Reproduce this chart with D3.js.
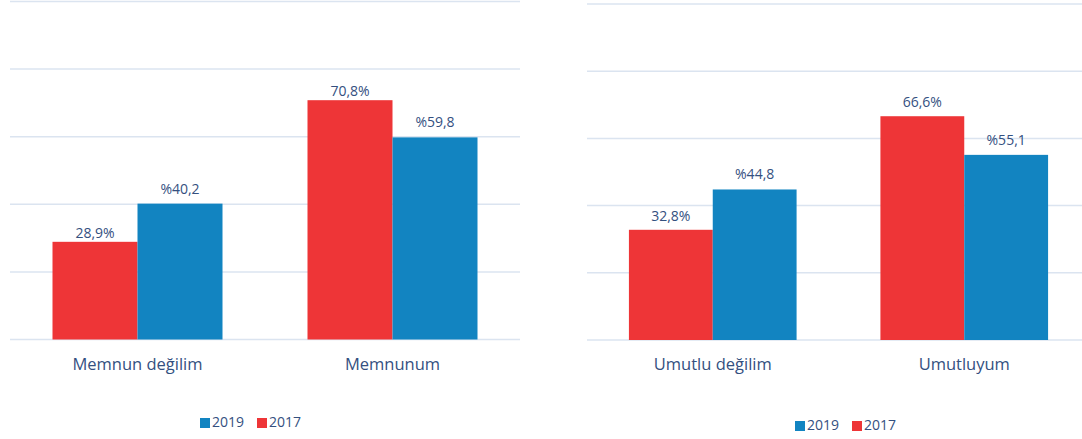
<!DOCTYPE html>
<html>
<head>
<meta charset="utf-8">
<script src="https://cdn.jsdelivr.net/npm/d3@7"></script>
<style>
  body { margin: 0; background: #fff; }
  text { font-family: "Open Sans", sans-serif; fill: #34507f; }
</style>
</head>
<body>
<div id="chart"></div>
<script>
// data
var SERIES = ["2017", "2019"];
var LEGEND_ORDER = ["2019", "2017"];
var LEFT_CATS = ["Memnun değilim", "Memnunum"];
var LEFT_2017 = [28.9, 70.8];
var LEFT_2019 = [40.2, 59.8];
var LEFT_LABELS_2017 = ["28,9%", "70,8%"];
var LEFT_LABELS_2019 = ["%40,2", "%59,8"];
var RIGHT_CATS = ["Umutlu değilim", "Umutluyum"];
var RIGHT_2017 = [32.8, 66.6];
var RIGHT_2019 = [44.8, 55.1];
var RIGHT_LABELS_2017 = ["32,8%", "66,6%"];
var RIGHT_LABELS_2019 = ["%44,8", "%55,1"];
var TICKS = [0, 20, 40, 60, 80, 100];

var WIDTH = 1082;
var HEIGHT = 439;
var COLORS = {"2017": "#ee3537", "2019": "#1284c1"};
var GRID = "#dbe4f0";

var svg = d3.select("#chart").append("svg")
  .attr("width", WIDTH)
  .attr("height", HEIGHT);

function drawPanel(cfg) {
  var g = svg.append("g");
  var y = d3.scaleLinear().domain([0, 100]).range([cfg.bottom, cfg.top]);
  var x0 = d3.scaleBand().domain(cfg.cats).range([cfg.left, cfg.right]);
  var x1 = d3.scaleBand().domain(SERIES).range([0, x0.bandwidth()]).paddingOuter(0.5);

  g.selectAll("line.grid")
    .data(TICKS)
    .enter()
    .append("line")
    .attr("class", "grid")
    .attr("x1", cfg.left)
    .attr("x2", cfg.right)
    .attr("y1", d => y(d))
    .attr("y2", d => y(d))
    .attr("stroke", GRID)
    .attr("stroke-width", 1.5);

  var rows = [];
  cfg.cats.forEach(function(c, i) {
    rows.push({cat: c, s: "2017", v: cfg.v2017[i], label: cfg.l2017[i], dy: cfg.dy2017});
    rows.push({cat: c, s: "2019", v: cfg.v2019[i], label: cfg.l2019[i], dy: cfg.dy2019});
  });

  g.selectAll("rect.bar")
    .data(rows)
    .enter()
    .append("rect")
    .attr("class", "bar")
    .attr("x", d => x0(d.cat) + x1(d.s))
    .attr("y", d => y(d.v))
    .attr("width", x1.bandwidth())
    .attr("height", d => y(0) - y(d.v))
    .attr("fill", d => COLORS[d.s]);

  g.selectAll("text.val")
    .data(rows)
    .enter()
    .append("text")
    .attr("class", "val")
    .attr("x", d => x0(d.cat) + x1(d.s) + x1.bandwidth() / 2)
    .attr("y", d => y(d.v) - d.dy)
    .attr("text-anchor", "middle")
    .style("font-size", "14px")
    .text(d => d.label);

  g.selectAll("text.cat")
    .data(cfg.cats)
    .enter()
    .append("text")
    .attr("class", "cat")
    .attr("x", d => x0(d) + x0.bandwidth() / 2)
    .attr("y", cfg.catY)
    .attr("text-anchor", "middle")
    .attr("dominant-baseline", "middle")
    .style("font-size", "16.5px")
    .text(d => d);

  var leg = g.selectAll("g.leg")
    .data(LEGEND_ORDER)
    .enter()
    .append("g")
    .attr("class", "leg")
    .attr("transform", (d, i) => "translate(" + (cfg.legX + i * 57) + "," + cfg.legY + ")");
  leg.append("rect")
    .attr("x", 0)
    .attr("y", -5)
    .attr("width", 10)
    .attr("height", 10)
    .attr("fill", d => COLORS[d]);
  leg.append("text")
    .attr("x", 12)
    .attr("y", 0)
    .attr("dominant-baseline", "middle")
    .style("font-size", "14px")
    .text(d => d);
}

drawPanel({
  cats: LEFT_CATS, v2017: LEFT_2017, v2019: LEFT_2019,
  l2017: LEFT_LABELS_2017, l2019: LEFT_LABELS_2019,
  left: 10, right: 520, top: 1.5, bottom: 339.5,
  dy2017: 4, dy2019: 10, catY: 366, legX: 200, legY: 423
});

drawPanel({
  cats: RIGHT_CATS, v2017: RIGHT_2017, v2019: RIGHT_2019,
  l2017: RIGHT_LABELS_2017, l2019: RIGHT_LABELS_2019,
  left: 587, right: 1090, top: 4, bottom: 340,
  dy2017: 9, dy2019: 10, catY: 366, legX: 795, legY: 426
});
</script>
</body>
</html>
